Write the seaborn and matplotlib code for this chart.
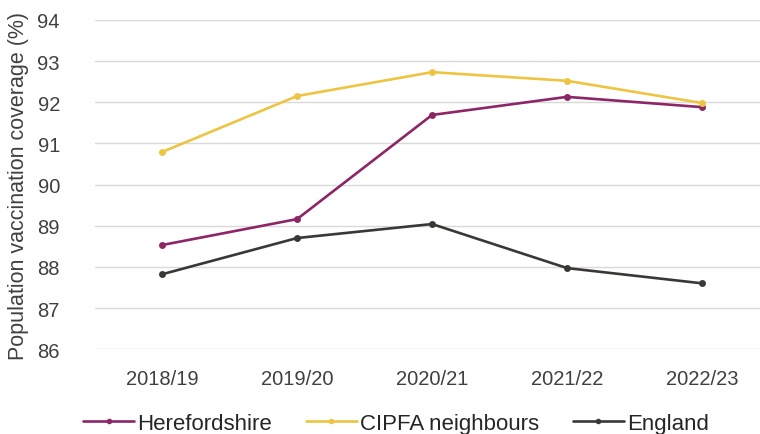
import matplotlib
matplotlib.use("Agg")
import matplotlib.pyplot as plt
import seaborn as sns
import pandas as pd

# Population vaccination coverage by year
years = ["2018/19", "2019/20", "2020/21", "2021/22", "2022/23"]
herefordshire = [88.53, 89.16, 91.69, 92.13, 91.88]
cipfa = [90.79, 92.15, 92.73, 92.52, 91.98]
england = [87.82, 88.70, 89.04, 87.97, 87.60]

series_names = ["Herefordshire", "CIPFA neighbours", "England"]
series_values = [herefordshire, cipfa, england]
colors = ["#8C2667", "#EEC443", "#3A3737"]

y_ticks = [86, 87, 88, 89, 90, 91, 92, 93, 94]

df = pd.concat(
    [pd.DataFrame({"year": years, "coverage": v, "area": n})
     for n, v in zip(series_names, series_values)],
    ignore_index=True,
)

sns.set_theme(style="white")
plt.rcParams["font.family"] = ["Liberation Sans", "DejaVu Sans"]

fig = plt.figure(figsize=(7.6, 4.35), dpi=100)
ax = fig.add_axes([0.1245, 0.195, 0.888, 0.757])

sns.lineplot(
    data=df, x="year", y="coverage", hue="area",
    hue_order=series_names, palette=colors,
    marker="o", markersize=5, markeredgewidth=0,
    linewidth=1.9, sort=False, ax=ax, legend=False,
)

ax.set_xlim(-0.5, 4.5)
ax.set_ylim(86, 94)
ax.set_yticks(y_ticks)
ax.set_yticklabels([str(t) for t in y_ticks])
ax.grid(axis="y", color="#D9D9D9", linewidth=1)
ax.set_axisbelow(True)
for s in ax.spines.values():
    s.set_visible(False)

ax.tick_params(axis="y", length=0, pad=25, labelsize=14.5, labelcolor="#404040")
ax.tick_params(axis="x", length=0, pad=14, labelsize=14.5, labelcolor="#404040")
ax.set_xlabel("")
ax.set_ylabel("Population vaccination coverage (%)", fontsize=15.5,
              color="#404040", labelpad=6)

handles = [
    plt.Line2D([], [], color=c, linewidth=1.9, marker="o", markersize=4,
               markeredgewidth=0)
    for c in colors
]
fig.legend(
    handles, series_names, loc="lower center", bbox_to_anchor=(0.521, -0.045),
    ncol=3, frameon=False, fontsize=16, handlelength=2.3, handletextpad=0.15,
    columnspacing=1.5, labelcolor="#262626",
)

fig.savefig("out.png", dpi=100)
